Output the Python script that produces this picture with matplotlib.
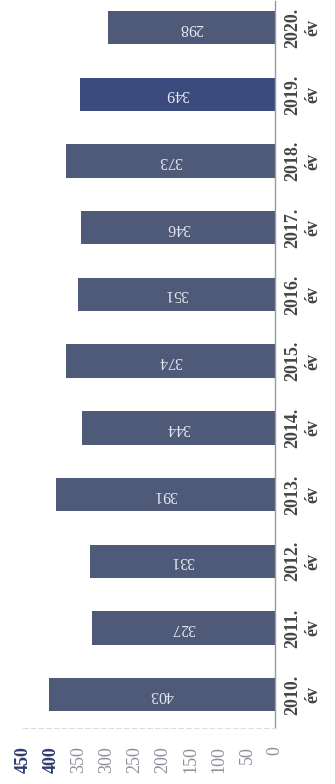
import matplotlib.pyplot as plt
import numpy as np

years = ["2010.", "2011.", "2012.", "2013.", "2014.", "2015.", "2016.", "2017.", "2018.", "2019.", "2020."]
values = [403, 327, 331, 391, 344, 374, 351, 346, 373, 349, 298]
ticks = [0, 50, 100, 150, 200, 250, 300, 350, 400, 450]

plt.rcParams['font.family'] = ['Liberation Serif', 'DejaVu Serif']

fig = plt.figure(figsize=(3.35, 7.84), dpi=100)
ax = fig.add_axes([23 / 335, 56 / 784, 252 / 335, 727 / 784])

ypos = np.arange(len(years))
colors = ['#4e5a78'] * len(years)
colors[9] = '#3c4b7e'
ax.barh(ypos, values, height=0.5, color=colors)

# value labels (upside down, as in the scanned page)
for y, v in zip(ypos, values):
    ax.text(v / 2, y, str(v), rotation=180, ha='center', va='center',
            color='#e6e8f0', fontsize=11.5)

ax.set_xlim(450, 0)
ax.set_ylim(-0.5, 10.4)

ax.set_xticks(ticks)
ax.set_xticklabels([str(t) for t in ticks], rotation=90, fontsize=13, color='#8c909c')
for lab in ax.get_xticklabels():
    if lab.get_text() in ("400", "450"):
        lab.set_color('#2e3d6e')
        lab.set_fontweight('bold')
ax.tick_params(axis='x', length=0, pad=13)

ax.yaxis.tick_right()
ax.set_yticks(ypos)
ax.set_yticklabels([y + "\név" for y in years], rotation=90, fontsize=13,
                   fontweight='bold', color='#454545', va='center', ha='left',
                   multialignment='center')
ax.tick_params(axis='y', length=0, pad=7)

for s in ['top', 'left']:
    ax.spines[s].set_visible(False)
ax.spines['right'].set_color('#9a9a9a')
ax.spines['right'].set_linewidth(1)
ax.spines['bottom'].set_color('#dddddd')
ax.spines['bottom'].set_linestyle((0, (4, 3)))

fig.savefig('out.png', dpi=100)
